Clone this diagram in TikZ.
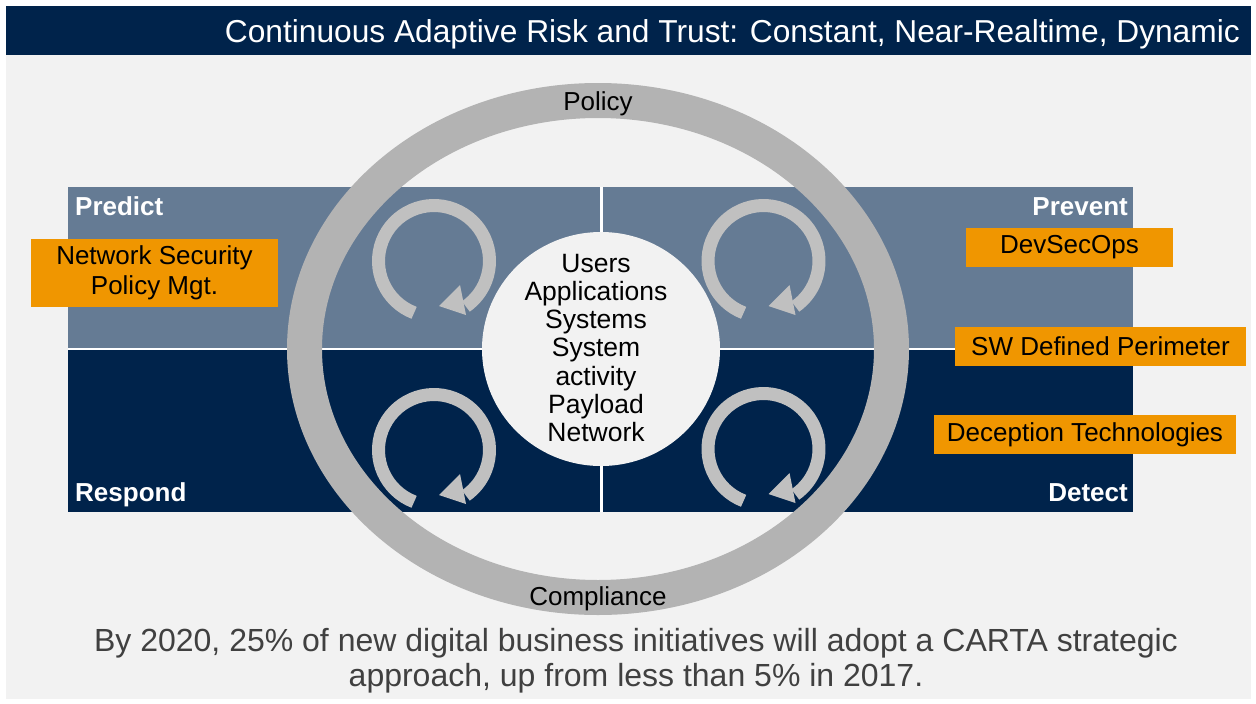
\documentclass[tikz,border=0pt]{standalone}
\usepackage{fontspec}
\setmainfont{Liberation Sans}
\usetikzlibrary{shapes.geometric}
\definecolor{navy}{RGB}{0,35,75}
\definecolor{slate}{RGB}{101,123,148}
\definecolor{ringgray}{RGB}{179,179,179}
\definecolor{arrgray}{RGB}{192,192,192}
\definecolor{orng}{RGB}{240,150,0}
\definecolor{bggray}{RGB}{242,242,242}
\definecolor{txtgray}{RGB}{64,64,64}
\tikzset{
  cyc/.pic={
    \draw[arrgray, line width=13pt] (111:55.5) arc[start angle=111, end angle=415, radius=55.5];
    \fill[arrgray] (26,24) -- (32,54) -- (5,45) -- cycle;
  },
  quadlabel/.style={text=white, font=\bfseries\fontsize{26}{30}\selectfont, inner sep=0pt},
  orangebox/.style={fill=orng, text=black, inner sep=0pt, align=center,
    font=\fontsize{26}{29.5}\selectfont},
  ringlabel/.style={text=black, inner sep=0pt, font=\fontsize{26}{30}\selectfont},
}
\begin{document}
\begin{tikzpicture}[x=1pt,y=-1pt]
\useasboundingbox (0,0) rectangle (1256,704);
\fill[white] (0,0) rectangle (1256,704);
\fill[bggray] (6,55) rectangle (1251,699);
\fill[navy] (6,6) rectangle (1251,55);
\node[anchor=base east, text=white, inner sep=0pt, font=\fontsize{31.7}{38}\selectfont] (title) at (1240,42)
  {Continuous Adaptive Risk and Trust: Constant, Near-Realtime, Dynamic};
% quadrants
\fill[slate] (68,187) rectangle (1133,349);
\fill[navy] (68,349) rectangle (1133,512);
\draw[white, line width=2.5pt] (601.5,187) -- (601.5,512);
\draw[white, line width=2.2pt] (68,349) -- (1133,349);
% quadrant labels
\node[quadlabel, anchor=base west] (predict) at (75,215) {Predict};
\node[quadlabel, anchor=base east] (prevent) at (1128,215) {Prevent};
\node[quadlabel, anchor=base west] (respond) at (75,501) {Respond};
\node[quadlabel, anchor=base east] (detect) at (1128,501) {Detect};
% ring
\draw[ringgray, line width=35pt] (598,349) ellipse [x radius=293.5, y radius=248.5];
\node[ringlabel, anchor=base] (policy) at (598,110) {Policy};
\node[ringlabel, anchor=base] (compliance) at (598,605) {Compliance};
% cycle arrows
\pic (c1) at (434,261) {cyc};
\pic (c2) at (763.5,261) {cyc};
\pic (c3) at (434,450) {cyc};
\pic (c4) at (763.5,449) {cyc};
% core
\node[ellipse, fill=bggray, minimum width=238pt, minimum height=234pt, inner sep=0pt] (core) at (601,349) {};
\node[align=center, inner sep=0pt, font=\fontsize{26.5}{28.2}\selectfont] (coretext) at (596,348)
  {Users\\Applications\\Systems\\System\\activity\\Payload\\Network};
% orange boxes
\node[orangebox, minimum width=247pt, minimum height=68pt] (nsp) at (154.5,273) {Network Security\\Policy Mgt.};
\node[orangebox, minimum width=207pt, minimum height=39pt] (dso) at (1069.5,247.5) {DevSecOps};
\node[orangebox, minimum width=291pt, minimum height=39pt] (swdp) at (1100.5,346.5) {SW Defined Perimeter};
\node[orangebox, minimum width=302pt, minimum height=39pt] (dt) at (1085,434.5) {Deception Technologies};
% bottom text
\node[align=center, text=txtgray, inner sep=0pt, font=\fontsize{32}{35}\selectfont] (bottom) at (636,661)
  {By 2020, 25\% of new digital business initiatives will adopt a CARTA strategic\\approach, up from less than 5\% in 2017.};
\end{tikzpicture}
\end{document}
